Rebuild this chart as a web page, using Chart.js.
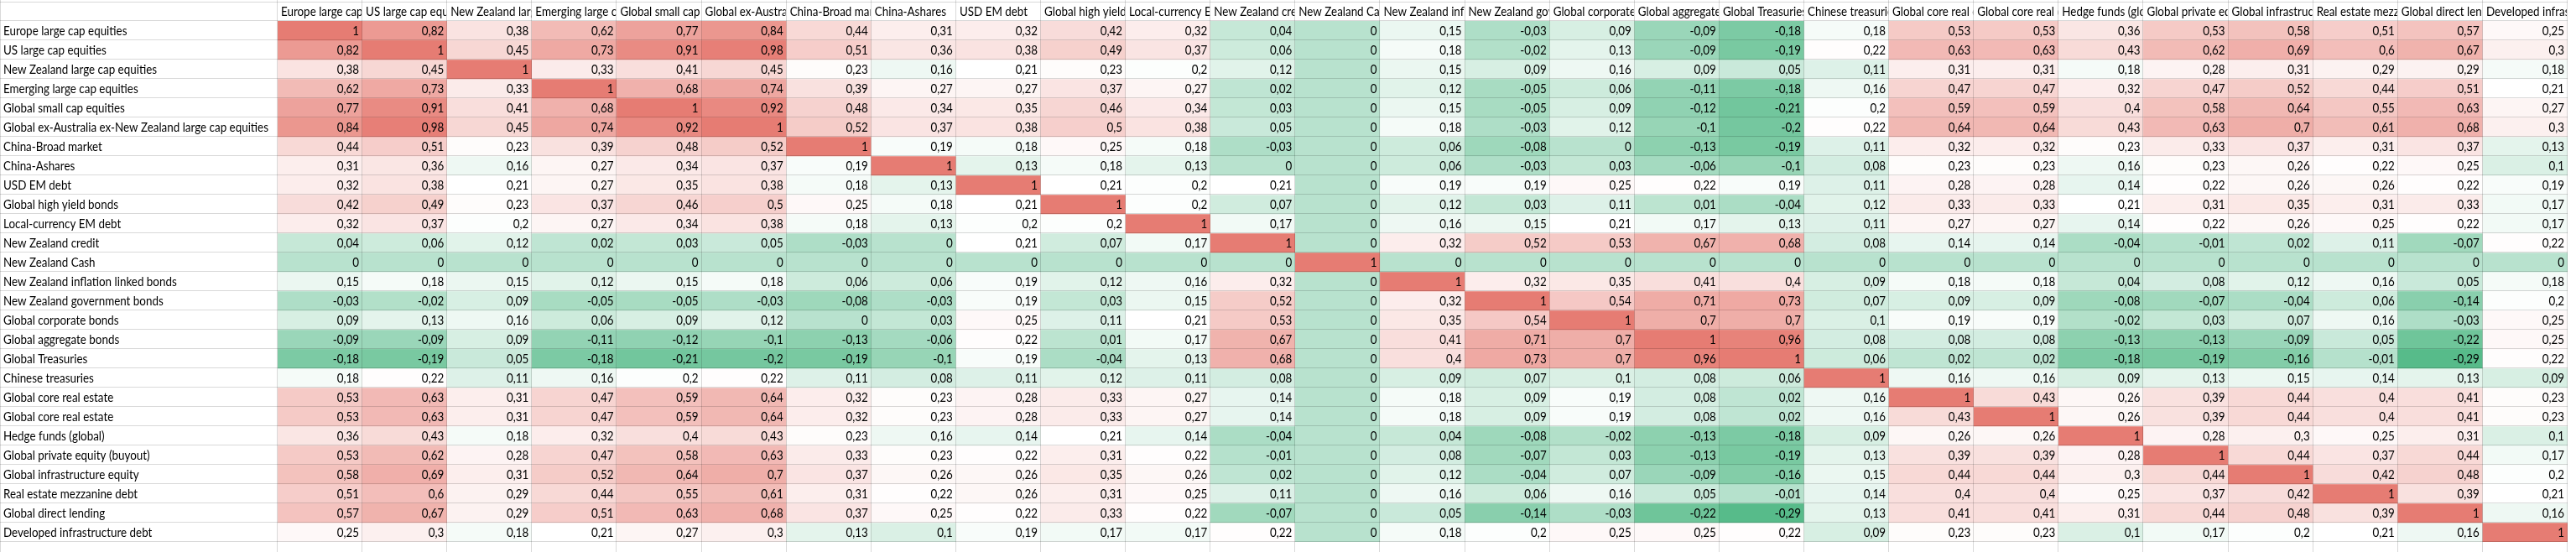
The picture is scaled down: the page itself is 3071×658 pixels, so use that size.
<!DOCTYPE html>
<html>
<head>
<meta charset="utf-8">
<title>Correlation matrix</title>
<script src="https://cdn.jsdelivr.net/npm/chart.js@4.4.1/dist/chart.umd.min.js"></script>
<style>
    html, body { margin: 0; padding: 0; background: #fff; overflow: hidden; }
    #wrap { position: relative; width: 3071px; height: 658px; }
</style>
</head>
<body>
<div id="wrap"><canvas id="corrChart"></canvas></div>
<script>
// ===== Data =====
const assets = [
    "Europe large cap equities",
    "US large cap equities",
    "New Zealand large cap equities",
    "Emerging large cap equities",
    "Global small cap equities",
    "Global ex-Australia ex-New Zealand large cap equities",
    "China-Broad market",
    "China-Ashares",
    "USD EM debt",
    "Global high yield bonds",
    "Local-currency EM debt",
    "New Zealand credit",
    "New Zealand Cash",
    "New Zealand inflation linked bonds",
    "New Zealand government bonds",
    "Global corporate bonds",
    "Global aggregate bonds",
    "Global Treasuries",
    "Chinese treasuries",
    "Global core real estate",
    "Global core real estate",
    "Hedge funds (global)",
    "Global private equity (buyout)",
    "Global infrastructure equity",
    "Real estate mezzanine debt",
    "Global direct lending",
    "Developed infrastructure debt"
];

// one row per asset, columns in the same order as assets
const corr = [
    [1, 0.82, 0.38, 0.62, 0.77, 0.84, 0.44, 0.31, 0.32, 0.42, 0.32, 0.04, 0, 0.15, -0.03, 0.09, -0.09, -0.18, 0.18, 0.53, 0.53, 0.36, 0.53, 0.58, 0.51, 0.57, 0.25],
    [0.82, 1, 0.45, 0.73, 0.91, 0.98, 0.51, 0.36, 0.38, 0.49, 0.37, 0.06, 0, 0.18, -0.02, 0.13, -0.09, -0.19, 0.22, 0.63, 0.63, 0.43, 0.62, 0.69, 0.6, 0.67, 0.3],
    [0.38, 0.45, 1, 0.33, 0.41, 0.45, 0.23, 0.16, 0.21, 0.23, 0.2, 0.12, 0, 0.15, 0.09, 0.16, 0.09, 0.05, 0.11, 0.31, 0.31, 0.18, 0.28, 0.31, 0.29, 0.29, 0.18],
    [0.62, 0.73, 0.33, 1, 0.68, 0.74, 0.39, 0.27, 0.27, 0.37, 0.27, 0.02, 0, 0.12, -0.05, 0.06, -0.11, -0.18, 0.16, 0.47, 0.47, 0.32, 0.47, 0.52, 0.44, 0.51, 0.21],
    [0.77, 0.91, 0.41, 0.68, 1, 0.92, 0.48, 0.34, 0.35, 0.46, 0.34, 0.03, 0, 0.15, -0.05, 0.09, -0.12, -0.21, 0.2, 0.59, 0.59, 0.4, 0.58, 0.64, 0.55, 0.63, 0.27],
    [0.84, 0.98, 0.45, 0.74, 0.92, 1, 0.52, 0.37, 0.38, 0.5, 0.38, 0.05, 0, 0.18, -0.03, 0.12, -0.1, -0.2, 0.22, 0.64, 0.64, 0.43, 0.63, 0.7, 0.61, 0.68, 0.3],
    [0.44, 0.51, 0.23, 0.39, 0.48, 0.52, 1, 0.19, 0.18, 0.25, 0.18, -0.03, 0, 0.06, -0.08, 0, -0.13, -0.19, 0.11, 0.32, 0.32, 0.23, 0.33, 0.37, 0.31, 0.37, 0.13],
    [0.31, 0.36, 0.16, 0.27, 0.34, 0.37, 0.19, 1, 0.13, 0.18, 0.13, 0, 0, 0.06, -0.03, 0.03, -0.06, -0.1, 0.08, 0.23, 0.23, 0.16, 0.23, 0.26, 0.22, 0.25, 0.1],
    [0.32, 0.38, 0.21, 0.27, 0.35, 0.38, 0.18, 0.13, 1, 0.21, 0.2, 0.21, 0, 0.19, 0.19, 0.25, 0.22, 0.19, 0.11, 0.28, 0.28, 0.14, 0.22, 0.26, 0.26, 0.22, 0.19],
    [0.42, 0.49, 0.23, 0.37, 0.46, 0.5, 0.25, 0.18, 0.21, 1, 0.2, 0.07, 0, 0.12, 0.03, 0.11, 0.01, -0.04, 0.12, 0.33, 0.33, 0.21, 0.31, 0.35, 0.31, 0.33, 0.17],
    [0.32, 0.37, 0.2, 0.27, 0.34, 0.38, 0.18, 0.13, 0.2, 0.2, 1, 0.17, 0, 0.16, 0.15, 0.21, 0.17, 0.13, 0.11, 0.27, 0.27, 0.14, 0.22, 0.26, 0.25, 0.22, 0.17],
    [0.04, 0.06, 0.12, 0.02, 0.03, 0.05, -0.03, 0, 0.21, 0.07, 0.17, 1, 0, 0.32, 0.52, 0.53, 0.67, 0.68, 0.08, 0.14, 0.14, -0.04, -0.01, 0.02, 0.11, -0.07, 0.22],
    [0, 0, 0, 0, 0, 0, 0, 0, 0, 0, 0, 0, 1, 0, 0, 0, 0, 0, 0, 0, 0, 0, 0, 0, 0, 0, 0],
    [0.15, 0.18, 0.15, 0.12, 0.15, 0.18, 0.06, 0.06, 0.19, 0.12, 0.16, 0.32, 0, 1, 0.32, 0.35, 0.41, 0.4, 0.09, 0.18, 0.18, 0.04, 0.08, 0.12, 0.16, 0.05, 0.18],
    [-0.03, -0.02, 0.09, -0.05, -0.05, -0.03, -0.08, -0.03, 0.19, 0.03, 0.15, 0.52, 0, 0.32, 1, 0.54, 0.71, 0.73, 0.07, 0.09, 0.09, -0.08, -0.07, -0.04, 0.06, -0.14, 0.2],
    [0.09, 0.13, 0.16, 0.06, 0.09, 0.12, 0, 0.03, 0.25, 0.11, 0.21, 0.53, 0, 0.35, 0.54, 1, 0.7, 0.7, 0.1, 0.19, 0.19, -0.02, 0.03, 0.07, 0.16, -0.03, 0.25],
    [-0.09, -0.09, 0.09, -0.11, -0.12, -0.1, -0.13, -0.06, 0.22, 0.01, 0.17, 0.67, 0, 0.41, 0.71, 0.7, 1, 0.96, 0.08, 0.08, 0.08, -0.13, -0.13, -0.09, 0.05, -0.22, 0.25],
    [-0.18, -0.19, 0.05, -0.18, -0.21, -0.2, -0.19, -0.1, 0.19, -0.04, 0.13, 0.68, 0, 0.4, 0.73, 0.7, 0.96, 1, 0.06, 0.02, 0.02, -0.18, -0.19, -0.16, -0.01, -0.29, 0.22],
    [0.18, 0.22, 0.11, 0.16, 0.2, 0.22, 0.11, 0.08, 0.11, 0.12, 0.11, 0.08, 0, 0.09, 0.07, 0.1, 0.08, 0.06, 1, 0.16, 0.16, 0.09, 0.13, 0.15, 0.14, 0.13, 0.09],
    [0.53, 0.63, 0.31, 0.47, 0.59, 0.64, 0.32, 0.23, 0.28, 0.33, 0.27, 0.14, 0, 0.18, 0.09, 0.19, 0.08, 0.02, 0.16, 1, 0.43, 0.26, 0.39, 0.44, 0.4, 0.41, 0.23],
    [0.53, 0.63, 0.31, 0.47, 0.59, 0.64, 0.32, 0.23, 0.28, 0.33, 0.27, 0.14, 0, 0.18, 0.09, 0.19, 0.08, 0.02, 0.16, 0.43, 1, 0.26, 0.39, 0.44, 0.4, 0.41, 0.23],
    [0.36, 0.43, 0.18, 0.32, 0.4, 0.43, 0.23, 0.16, 0.14, 0.21, 0.14, -0.04, 0, 0.04, -0.08, -0.02, -0.13, -0.18, 0.09, 0.26, 0.26, 1, 0.28, 0.3, 0.25, 0.31, 0.1],
    [0.53, 0.62, 0.28, 0.47, 0.58, 0.63, 0.33, 0.23, 0.22, 0.31, 0.22, -0.01, 0, 0.08, -0.07, 0.03, -0.13, -0.19, 0.13, 0.39, 0.39, 0.28, 1, 0.44, 0.37, 0.44, 0.17],
    [0.58, 0.69, 0.31, 0.52, 0.64, 0.7, 0.37, 0.26, 0.26, 0.35, 0.26, 0.02, 0, 0.12, -0.04, 0.07, -0.09, -0.16, 0.15, 0.44, 0.44, 0.3, 0.44, 1, 0.42, 0.48, 0.2],
    [0.51, 0.6, 0.29, 0.44, 0.55, 0.61, 0.31, 0.22, 0.26, 0.31, 0.25, 0.11, 0, 0.16, 0.06, 0.16, 0.05, -0.01, 0.14, 0.4, 0.4, 0.25, 0.37, 0.42, 1, 0.39, 0.21],
    [0.57, 0.67, 0.29, 0.51, 0.63, 0.68, 0.37, 0.25, 0.22, 0.33, 0.22, -0.07, 0, 0.05, -0.14, -0.03, -0.22, -0.29, 0.13, 0.41, 0.41, 0.31, 0.44, 0.48, 0.39, 1, 0.16],
    [0.25, 0.3, 0.18, 0.21, 0.27, 0.3, 0.13, 0.1, 0.19, 0.17, 0.17, 0.22, 0, 0.18, 0.2, 0.25, 0.25, 0.22, 0.09, 0.23, 0.23, 0.1, 0.17, 0.2, 0.21, 0.16, 1]
];

// ===== Colour scale (green - white - red, midpoint = median) =====
const LOW = [87, 187, 138];
const MID = [255, 255, 255];
const HIGH = [230, 124, 115];

const flat = corr.flat().slice().sort((a, b) => a - b);
const minV = flat[0];
const maxV = flat[flat.length - 1];
const midV = flat[Math.floor(flat.length / 2)];

function mix(a, b, t) {
    t = Math.max(0, Math.min(1, t));
    return "rgb(" + a.map((v, i) => Math.round(v + (b[i] - v) * t)).join(",") + ")";
}

function cellColor(v) {
    if (v <= midV) return mix(LOW, MID, (v - minV) / (midV - minV));
    return mix(MID, HIGH, (v - midV) / (maxV - midV));
}

function formatValue(v) {
    return String(v).replace(".", ",");
}

// ===== Sheet plugin: grid, headers, labels, numbers =====
const FONT = "14.5px Lato";
const GRID = "rgba(0,0,0,0.15)";

const sheetPlugin = {
    id: "sheet",
    beforeDraw(chart) {
        const ctx = chart.ctx;
        ctx.save();
        ctx.fillStyle = "#ffffff";
        ctx.fillRect(0, 0, chart.width, chart.height);
        ctx.restore();
    },
    afterDatasetsDraw(chart) {
        const ctx = chart.ctx;
        const area = chart.chartArea;
        const xs = chart.scales.x;
        const ys = chart.scales.y;
        const n = assets.length;
        const colW = (area.right - area.left) / n;
        const headerTop = 2.5;

        ctx.save();
        ctx.font = FONT;
        const sx = 316 / ctx.measureText(assets[5]).width;

        function text(str, x, y, align) {
            ctx.save();
            ctx.translate(x, y);
            ctx.scale(sx, 1);
            ctx.textAlign = align;
            ctx.textBaseline = "middle";
            ctx.fillStyle = "#000";
            ctx.fillText(str, 0, 0);
            ctx.restore();
        }

        // cell values
        corr.forEach((row, r) => {
            const meta = chart.getDatasetMeta(r);
            row.forEach((v, c) => {
                const bar = meta.data[c];
                const right = bar.x + bar.width / 2;
                const cy = (bar.y + bar.base) / 2 + 1;
                text(formatValue(v), right - 4, cy, "right");
            });
        });

        // row labels
        for (let r = 0; r < n; r++) {
            const cy = (ys.getPixelForValue(r) + ys.getPixelForValue(r + 1)) / 2 + 1;
            ctx.save();
            ctx.beginPath();
            ctx.rect(0, ys.getPixelForValue(r), area.left, ys.getPixelForValue(r + 1) - ys.getPixelForValue(r));
            ctx.clip();
            text(assets[r], 4, cy, "left");
            ctx.restore();
        }

        // column headers (clipped to the cell)
        for (let c = 0; c < n; c++) {
            const left = xs.getPixelForValue(c) - colW / 2;
            ctx.save();
            ctx.beginPath();
            ctx.rect(left, headerTop, colW - 1, area.top - headerTop);
            ctx.clip();
            text(assets[c], left + 4, (headerTop + area.top) / 2 + 1, "left");
            ctx.restore();
        }

        // grid lines
        ctx.strokeStyle = GRID;
        ctx.lineWidth = 1;
        ctx.beginPath();
        const vx = [0.5, area.left];
        for (let c = 0; c < n; c++) vx.push(xs.getPixelForValue(c) + colW / 2);
        vx.forEach(x => {
            const px = Math.round(x) - 0.5;
            ctx.moveTo(px, 0);
            ctx.lineTo(px, chart.height);
        });
        const hy = [headerTop];
        for (let r = 0; r <= n; r++) hy.push(ys.getPixelForValue(r));
        hy.forEach(y => {
            const py = Math.round(y) - 0.5;
            ctx.moveTo(0, py);
            ctx.lineTo(area.right, py);
        });
        ctx.stroke();
        ctx.restore();
    }
};

// ===== Chart =====
const datasets = corr.map((row, r) => ({
    label: assets[r],
    data: row.map(() => [r, r + 1]),
    backgroundColor: row.map(v => cellColor(v)),
    borderWidth: 0,
    barPercentage: 1,
    categoryPercentage: 1,
    grouped: false
}));

const ctx = document.getElementById("corrChart").getContext("2d");

new Chart(ctx, {
    type: "bar",
    data: {
        labels: assets.map((a, i) => i),
        datasets: datasets
    },
    options: {
        responsive: true,
        maintainAspectRatio: false,
        animation: false,
        events: [],
        layout: { padding: { left: 331, right: 10, top: 25, bottom: 12 } },
        scales: {
            x: { type: "category", display: false, offset: true },
            y: { type: "linear", display: false, min: 0, max: assets.length, reverse: true }
        },
        plugins: {
            legend: { display: false },
            tooltip: { enabled: false }
        }
    },
    plugins: [sheetPlugin]
});
</script>
</body>
</html>
